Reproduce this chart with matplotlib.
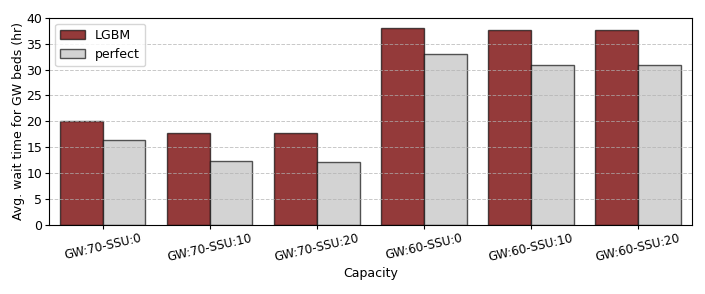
import numpy as np
import pandas as pd
import matplotlib
matplotlib.use("Agg")
import matplotlib.pyplot as plt
import seaborn as sns

capacity = ["GW:70-SSU:0", "GW:70-SSU:10", "GW:70-SSU:20",
            "GW:60-SSU:0", "GW:60-SSU:10", "GW:60-SSU:20"]
lgbm = [20.0, 17.7, 17.7, 38.1, 37.6, 37.7]
perfect = [16.4, 12.4, 12.2, 33.0, 30.9, 30.8]

df = pd.DataFrame({
    "Capacity": capacity * 2,
    "wait": lgbm + perfect,
    "model": ["LGBM"] * len(capacity) + ["perfect"] * len(capacity),
})

fig = plt.figure(figsize=(7.05, 2.94), dpi=100)
ax = fig.add_axes([0.0695, 0.2347, 0.9115, 0.7051])

sns.barplot(data=df, x="Capacity", y="wait", hue="model",
            palette=["#943a3a", "#d3d3d3"], saturation=1,
            edgecolor=(0, 0, 0, 0.65), linewidth=1.0, ax=ax)

# grid sits on top of the bars, faded
ax.yaxis.grid(True, linestyle="--", color="#b0b0b0", alpha=0.7, linewidth=0.7)

ax.set_ylim(0, 40)
ax.set_xlim(-0.5, 5.5)
ax.set_yticks(np.arange(0, 41, 5))
ax.tick_params(length=3, pad=2)
ax.tick_params(axis="y", labelsize=9)
ax.tick_params(axis="x", labelsize=8.6)
ax.set_ylabel("Avg. wait time for GW beds (hr)", fontsize=9, labelpad=1)
ax.set_xlabel("Capacity", fontsize=9, labelpad=2)
plt.setp(ax.get_xticklabels(), rotation=13)
ax.legend(loc="upper left", title=None, fontsize=9)

plt.savefig("out.png", dpi=100)
